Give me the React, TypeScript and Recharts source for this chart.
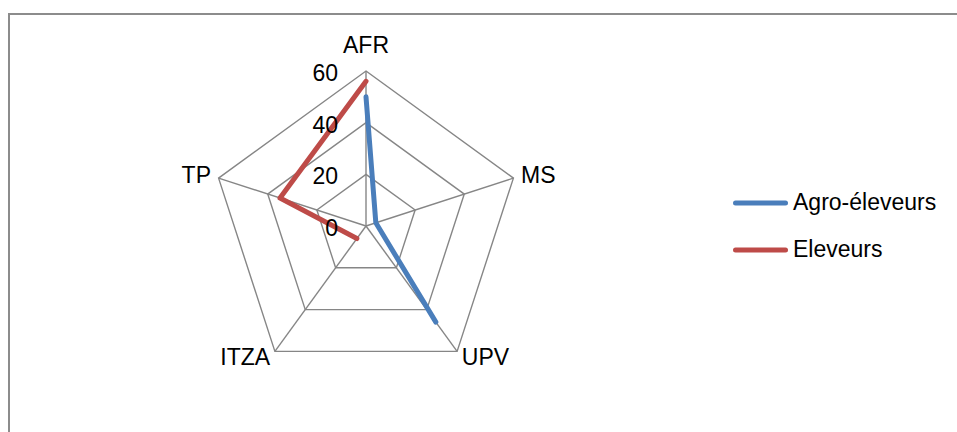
import React from "react";
import {
  RadarChart,
  Radar,
  PolarGrid,
  PolarAngleAxis,
  PolarRadiusAxis,
  Legend,
} from "recharts";

// Spokes, clockwise from the top
const axes = ["AFR", "MS", "UPV", "ITZA", "TP"];
// null = no value on that spoke (the line breaks there)
const agroEleveurs: (number | null)[] = [50, 4, 46, null, null];
const eleveurs: (number | null)[] = [56, null, null, 6, 35];
const radiusTicks = [0, 20, 40, 60];

const data = axes.map((axis, i) => ({
  axis,
  agro: agroEleveurs[i],
  eleveurs: eleveurs[i],
}));

const FONT = "'Liberation Sans', Arial, sans-serif";
const FONT_SIZE = 23;
const GRID = "#868686";
const BLUE = "#4A7EBB";
const RED = "#BE4B48";

// Draws the series as an open line: runs of valid points, wrapping from the
// last spoke back to the first, broken wherever a value is missing.
function OpenRadarLine(props: any) {
  const { points = [], color } = props;
  const n = points.length;
  const ok = (p: any) => p && p.value != null && Number.isFinite(p.x) && Number.isFinite(p.y);
  let start = points.findIndex((p: any, i: number) => ok(p) && !ok(points[(i - 1 + n) % n]));
  const closed = start < 0;
  if (closed) start = 0;

  const runs: any[][] = [];
  let cur: any[] = [];
  for (let k = 0; k < n; k++) {
    const p = points[(start + k) % n];
    if (ok(p)) cur.push(p);
    else {
      if (cur.length) runs.push(cur);
      cur = [];
    }
  }
  if (cur.length) runs.push(cur);

  let d = runs
    .map((run) => run.map((p, i) => `${i ? "L" : "M"}${p.x},${p.y}`).join(""))
    .join("");
  if (closed && d) d += "Z";

  return (
    <path
      d={d}
      fill="none"
      stroke={color}
      strokeWidth={5}
      strokeLinejoin="round"
      strokeLinecap="round"
    />
  );
}

function AngleTick(props: any) {
  const { x, y, payload, textAnchor } = props;
  const dy = textAnchor === "middle" ? -10 : 7.5;
  return (
    <text
      x={x}
      y={y + dy}
      textAnchor={textAnchor}
      fontFamily={FONT}
      fontSize={FONT_SIZE}
      fill="#000"
    >
      {payload.value}
    </text>
  );
}

function RadiusTick(props: any) {
  const { x, y, payload } = props;
  return (
    <text
      x={x - 28}
      y={y + 10}
      textAnchor="end"
      fontFamily={FONT}
      fontSize={FONT_SIZE}
      fill="#000"
    >
      {payload.value}
    </text>
  );
}

function LegendContent(props: any) {
  const { payload = [] } = props;
  return (
    <div>
      {payload.map((entry: any) => (
        <div
          key={entry.value}
          style={{ display: "flex", alignItems: "center", height: 47 }}
        >
          <svg width={58} height={10}>
            <line
              x1={3.5}
              y1={5}
              x2={53.5}
              y2={5}
              stroke={entry.color}
              strokeWidth={5}
              strokeLinecap="round"
            />
          </svg>
          <span
            style={{
              fontFamily: FONT,
              fontSize: FONT_SIZE,
              color: "#000",
              marginLeft: 3,
              lineHeight: 1,
            }}
          >
            {entry.value}
          </span>
        </div>
      ))}
    </div>
  );
}

export default function App() {
  return (
    <div
      style={{
        position: "fixed",
        left: 0,
        top: 0,
        width: 957,
        height: 432,
        overflow: "hidden",
        background: "#fff",
      }}
    >
      <div
        style={{
          position: "absolute",
          left: 8,
          top: 13,
          width: 1000,
          height: 500,
          border: "2px solid #8c8c8c",
        }}
      />
      <RadarChart
        width={957}
        height={432}
        data={data}
        cx={366}
        cy={226}
        outerRadius={155}
        margin={{ top: 0, right: 0, bottom: 0, left: 0 }}
        style={{ position: "absolute", left: 0, top: 0 }}
      >
        <PolarGrid gridType="polygon" stroke={GRID} strokeWidth={1.4} />
        <PolarAngleAxis
          dataKey="axis"
          tick={<AngleTick />}
          tickLine={false}
          axisLine={false}
        />
        <PolarRadiusAxis
          angle={90}
          domain={[0, 60]}
          ticks={radiusTicks as any}
          tickCount={4}
          tick={<RadiusTick />}
          axisLine={false}
          tickLine={false}
        />
        <Radar
          name="Agro-éleveurs"
          dataKey="agro"
          stroke={BLUE}
          fill="none"
          isAnimationActive={false}
          shape={(p: any) => <OpenRadarLine {...p} color={BLUE} />}
        />
        <Radar
          name="Eleveurs"
          dataKey="eleveurs"
          stroke={RED}
          fill="none"
          isAnimationActive={false}
          shape={(p: any) => <OpenRadarLine {...p} color={RED} />}
        />
        <Legend
          layout="vertical"
          align="center"
          verticalAlign="middle"
          content={<LegendContent />}
          wrapperStyle={{ left: 732, top: 179, width: 220 }}
        />
      </RadarChart>
    </div>
  );
}
